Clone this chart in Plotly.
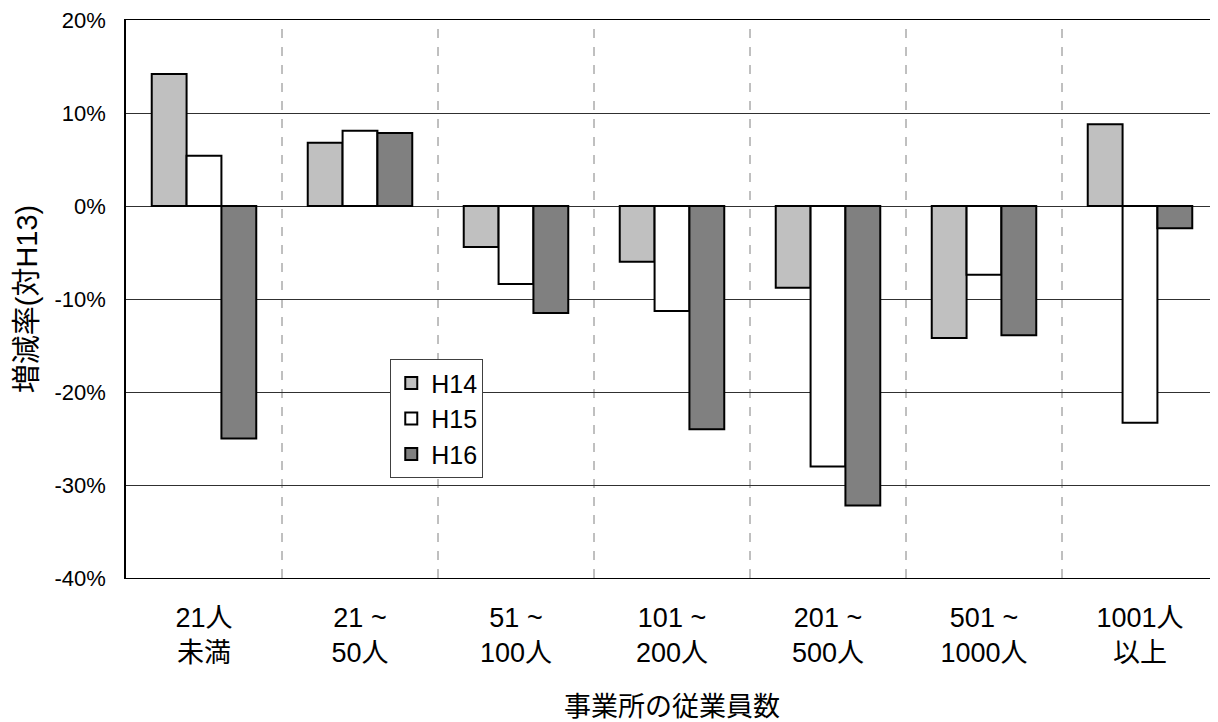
import plotly.graph_objects as go

categories = ["21人<br>未満", "21 ~<br>50人", "51 ~<br>100人", "101 ~<br>200人",
              "201 ~<br>500人", "501 ~<br>1000人", "1001人<br>以上"]
h14 = [14.2, 6.8, -4.4, -6.0, -8.8, -14.2, 8.8]
h15 = [5.4, 8.1, -8.4, -11.3, -28.0, -7.4, -23.3]
h16 = [-25.0, 7.85, -11.5, -24.0, -32.2, -13.9, -2.4]
y_ticks = [-40, -30, -20, -10, 0, 10, 20]

series = [("H14", h14, "#c0c0c0"), ("H15", h15, "#ffffff"), ("H16", h16, "#808080")]
FONT = "Liberation Sans, Arial, Noto Sans CJK JP"

fig = go.Figure()
for name, vals, col in series:
    fig.add_trace(go.Bar(x=categories, y=vals, name=name,
                         marker=dict(color=col, line=dict(color="black", width=2))))

# dashed separators between categories
for i in range(len(categories) - 1):
    fig.add_shape(type="line", xref="x", yref="paper", x0=i + 0.5, x1=i + 0.5, y0=0, y1=1,
                  line=dict(color="#808080", width=1, dash="dash"), layer="below")

# page body has an 8px margin, so the figure is a bit smaller than the window
fig.update_layout(
    width=1210, height=714,
    margin=dict(l=118, r=0, t=12, b=144),
    plot_bgcolor="white", paper_bgcolor="white",
    font=dict(family=FONT, color="black", size=22),
    barmode="group", bargap=0.33, bargroupgap=0,
    legend=dict(x=0.242, y=0.392, xanchor="left", yanchor="top",
                bordercolor="#404040", borderwidth=1, bgcolor="white",
                font=dict(size=25)),
    xaxis=dict(categoryorder="array", categoryarray=categories, automargin=False,
               showline=True, linecolor="black", linewidth=1.2, mirror=True,
               tickfont=dict(size=27), ticklabelstandoff=15,
               title=dict(text="事業所の従業員数", font=dict(size=27), standoff=38)),
    yaxis=dict(range=[-40, 20], tickvals=y_ticks, ticktext=[f"{v}%" for v in y_ticks],
               automargin=False, ticklabeloverflow="allow",
               showgrid=True, gridcolor="#303030", gridwidth=1,
               zeroline=True, zerolinecolor="#303030", zerolinewidth=1,
               showline=True, linecolor="black", linewidth=1.5,
               tickfont=dict(size=22), ticklabelstandoff=14,
               title=dict(text="増減率(対H13)", font=dict(size=29), standoff=8)),
)

fig.write_html("out.html")
